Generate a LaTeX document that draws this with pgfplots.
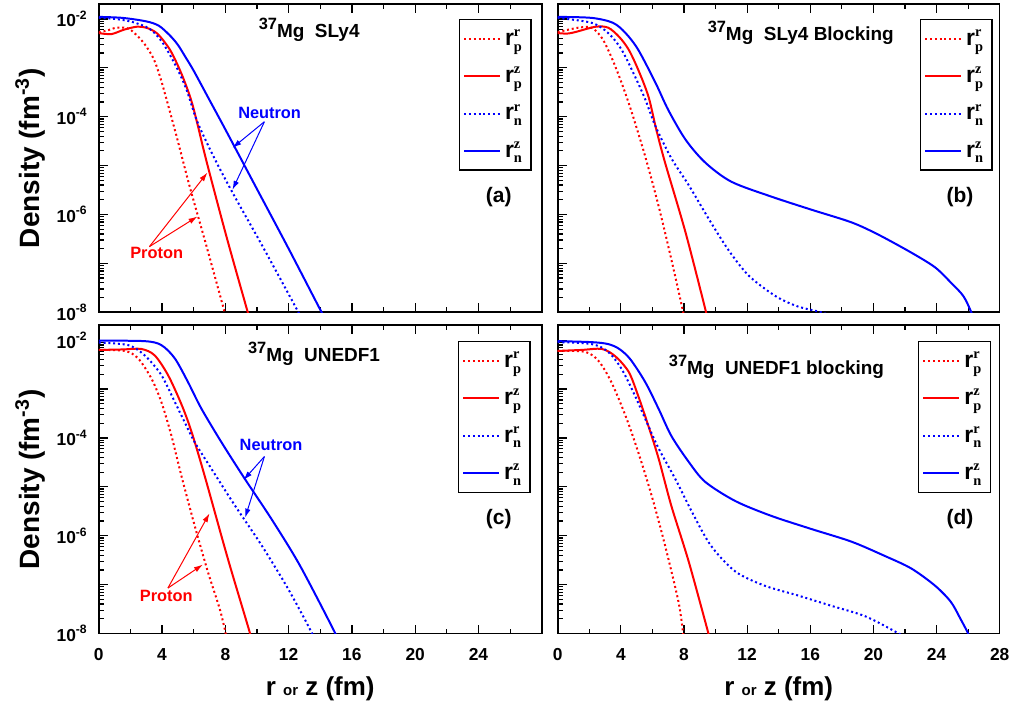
\documentclass[border=0pt]{standalone}
\usepackage{fontspec}
\setmainfont{Liberation Sans}
\newfontfamily\serif{Liberation Serif}
\usepackage{pgfplots}
\pgfplotsset{compat=1.18}
\usepackage{pgfplotstable}
\usetikzlibrary{arrows.meta}
\definecolor{rred}{RGB}{255,0,0}
\definecolor{rblue}{RGB}{0,0,255}
\newcommand{\smallser}[1]{\hbox{\fontsize{7.2}{8}\selectfont\serif\bfseries #1}}
\newcommand{\rr}[2]{r$^{\smallser{#1}}_{\smallser{#2}}$}
\newcommand{\ttl}[1]{\raisebox{4pt}{\fontsize{8.2}{9}\selectfont 37}Mg~~#1}

\pgfplotstableread{
x y
0 5.37e-3
0.5 5.75e-3
1.1 6.61e-3
1.6 6.61e-3
2.0 6.03e-3
2.6 3.98e-3
3.0 2.75e-3
3.5 1.45e-3
4.0 4.79e-4
4.9 4.17e-5
5.74 3.80e-6
6.81 2.24e-7
7.94 1.05e-8
8.3 3.98e-9
}\Apr
\pgfplotstableread{
x y
0 5.13e-3
0.8 4.90e-3
1.6 6.03e-3
2.4 6.92e-3
3.0 6.61e-3
3.7 5.01e-3
4.5 2.34e-3
5.2 7.94e-4
5.8 2.40e-4
6.2 7.94e-5
6.8 1.26e-5
8.07 3.55e-7
9.4 1.05e-8
9.7 5.01e-9
}\Apz
\pgfplotstableread{
x y
0 1.05e-2
1.0 1.00e-2
2.1 8.71e-3
3.2 6.31e-3
4.0 3.39e-3
4.9 1.05e-3
5.55 3.55e-4
6.2 8.32e-5
7.2 1.66e-5
8.45 2.82e-6
10.3 2.40e-7
12.55 1.10e-8
13.0 5.62e-9
}\Anr
\pgfplotstableread{
x y
0 1.10e-2
1.5 1.05e-2
3.0 8.91e-3
3.8 7.24e-3
4.5 4.57e-3
5.0 2.95e-3
5.5 1.62e-3
6.0 8.71e-4
7.0 2.19e-4
8.0 5.50e-5
10.0 3.31e-6
12.0 2.00e-7
14.05 1.05e-8
14.5 5.62e-9
}\Anz
\pgfplotstableread{
x y
0 5.37e-3
1.3 6.61e-3
2.15 6.61e-3
2.8 4.07e-3
3.4 1.66e-3
4.05 4.90e-4
4.7 1.20e-4
5.55 1.51e-5
6.4 1.45e-6
7.2 1.20e-7
7.95 1.00e-8
8.2 3.98e-9
}\Bpr
\pgfplotstableread{
x y
0 5.13e-3
0.6 5.01e-3
1.1 5.37e-3
2.4 6.92e-3
3.2 6.61e-3
3.9 4.27e-3
4.5 2.34e-3
5.1 9.12e-4
5.75 2.57e-4
6.25 5.37e-5
6.8 1.15e-5
8.1 4.27e-7
9.4 1.00e-8
9.7 3.98e-9
}\Bpz
\pgfplotstableread{
x y
0 1.05e-2
2.15 8.32e-3
3.2 5.13e-3
4.05 2.34e-3
4.9 6.61e-4
5.55 2.24e-4
6.2 6.31e-5
7.2 1.41e-5
8.3 3.98e-6
9.55 8.32e-7
10.8 1.91e-7
12.1 5.62e-8
13.8 2.14e-8
15.2 1.32e-8
16.7 1.00e-8
17.5 7.94e-9
}\Bnr
\pgfplotstableread{
x y
0 1.10e-2
2.15 1.05e-2
3.5 8.32e-3
4.3 5.13e-3
5.1 2.34e-3
6.2 4.90e-4
7.0 1.38e-4
8.1 3.39e-5
9.35 1.15e-5
11.0 4.68e-6
13.5 2.34e-6
16.05 1.26e-6
18.6 6.92e-7
20.3 3.89e-7
22.4 1.66e-7
23.9 8.32e-8
24.9 4.07e-8
25.7 2.14e-8
26.2 1.00e-8
26.4 6.31e-9
}\Bnz
\pgfplotstableread{
x y
0 6.31e-3
1.64 6.03e-3
2.48 4.27e-3
3.32 1.66e-3
3.95 5.50e-4
4.58 1.15e-4
5.21 1.74e-5
6.05 1.66e-6
6.89 1.86e-7
7.63 3.31e-8
7.99 1.12e-8
8.1 6.31e-9
}\Cpr
\pgfplotstableread{
x y
0 6.31e-3
1.5 6.46e-3
2.69 6.61e-3
3.53 4.90e-3
4.37 1.95e-3
5.21 5.01e-4
5.84 1.41e-4
6.68 1.74e-5
8.15 3.47e-7
9.52 1.12e-8
9.8 5.01e-9
}\Cpz
\pgfplotstableread{
x y
0 8.91e-3
1.85 7.94e-3
2.9 4.90e-3
3.95 1.95e-3
4.8 5.50e-4
5.42 2.14e-4
6.05 8.32e-5
7.1 2.40e-5
8.58 4.27e-6
10.26 6.61e-7
11.94 8.51e-8
13.41 1.12e-8
13.7 6.31e-9
}\Cnr
\pgfplotstableread{
x y
0 9.77e-3
2.9 9.55e-3
3.95 7.94e-3
4.8 4.27e-3
5.63 1.41e-3
6.47 4.07e-4
7.74 8.32e-5
9.2 1.51e-5
10.9 2.24e-6
12.7 2.51e-7
14.88 1.12e-8
15.2 6.31e-9
}\Cnz
\pgfplotstableread{
x y
0 6.03e-3
1.75 5.75e-3
2.6 3.72e-3
3.4 1.38e-3
4.3 2.82e-4
5.1 5.13e-5
5.95 6.61e-6
6.8 6.31e-7
7.65 4.47e-8
7.95 1.00e-8
8.1 5.01e-9
}\Dpr
\pgfplotstableread{
x y
0 6.03e-3
1.5 6.31e-3
2.8 6.61e-3
3.65 4.68e-3
4.5 2.24e-3
5.1 7.24e-4
5.75 1.74e-4
6.4 3.72e-5
7.2 4.07e-6
8.3 2.95e-7
9.55 1.00e-8
9.8 5.01e-9
}\Dpz
\pgfplotstableread{
x y
0 9.12e-3
2.15 8.32e-3
3.2 5.75e-3
4.05 2.57e-3
4.9 7.24e-4
5.75 1.74e-4
6.4 6.03e-5
7.45 1.45e-5
8.5 3.09e-6
9.7 6.31e-7
11.25 1.86e-7
13.1 9.55e-8
15.2 6.03e-8
17.3 3.72e-8
19.5 2.24e-8
21.6 1.00e-8
22.0 7.94e-9
}\Dnr
\pgfplotstableread{
x y
0 9.55e-3
2.15 9.12e-3
3.2 8.32e-3
3.9 6.61e-3
4.6 4.07e-3
5.55 1.38e-3
6.4 3.89e-4
7.2 1.10e-4
8.3 3.24e-5
9.35 1.26e-5
11.25 5.13e-6
13.5 2.57e-6
16.05 1.38e-6
18.6 7.59e-7
20.7 3.89e-7
22.4 2.14e-7
23.9 9.55e-8
24.9 4.47e-8
25.5 2.04e-8
26.0 1.00e-8
26.2 6.31e-9
}\Dnz

\pgfplotsset{
  every axis/.append style={
    scale only axis, height=154.5pt,
    xmin=0, xmax=28, ymin=1e-8, ymax=2.02e-2,
    xtick={0,4,...,28}, minor x tick num=1,
    ytick={1e-8,1e-7,1e-6,1e-5,1e-4,1e-3,1e-2},
    minor ytick={2e-8,3e-8,4e-8,5e-8,6e-8,7e-8,8e-8,9e-8,2e-7,3e-7,4e-7,5e-7,6e-7,7e-7,8e-7,9e-7,2e-6,3e-6,4e-6,5e-6,6e-6,7e-6,8e-6,9e-6,2e-5,3e-5,4e-5,5e-5,6e-5,7e-5,8e-5,9e-5,2e-4,3e-4,4e-4,5e-4,6e-4,7e-4,8e-4,9e-4,2e-3,3e-3,4e-3,5e-3,6e-3,7e-3,8e-3,9e-3,2e-2},
    ytick pos=left, xtick pos=both, tick align=inside,
    major tick length=4.5pt, minor tick length=2.5pt,
    axis line style={line width=0.8pt},
    tick style={black, line width=0.6pt},
    tick label style={font=\fontsize{8.7}{10}\selectfont\bfseries},
    xticklabel style={yshift=-4pt},
    yticklabel style={xshift=-2pt},
    legend cell align=left,
  },
  legend image code/.code={\draw[#1] (0pt,0pt) -- (18pt,0pt);},
  every axis legend/.append style={anchor=north east, draw=black, line width=0.6pt, fill=white,
      inner xsep=2pt, inner ysep=3pt, row sep=5.5pt,
      font=\fontsize{11.5}{12}\selectfont\bfseries},
  every axis x label/.append style={at={(rel axis cs:0.5,0)}, anchor=center, yshift=-27.5pt, font=\fontsize{13}{15}\selectfont\bfseries},
  every axis y label/.append style={at={(rel axis cs:-0.155,0.5)}, anchor=center, font=\fontsize{14}{16}\selectfont\bfseries},
}
\tikzset{arr/.style={-{Latex[length=4.5pt,width=2.8pt]}, line width=0.5pt},
  ann/.style={font=\fontsize{8.2}{10}\selectfont\bfseries},
  ttlf/.style={font=\fontsize{9.5}{11}\selectfont\bfseries},
  lblf/.style={font=\fontsize{10.5}{12}\selectfont\bfseries},
  lpr/.style={rred, line width=1pt, dash pattern=on 1pt off 1.4pt},
  lpz/.style={rred, line width=1pt},
  lnr/.style={rblue, line width=1pt, dash pattern=on 1pt off 1.4pt},
  lnz/.style={rblue, line width=1pt}}

\begin{document}
\begin{tikzpicture}
% (a)
\begin{axis}[ymode=log, at={(49.5pt,201pt)}, anchor=south west, width=222pt,
  xticklabels={},
  yticklabels={10\textsuperscript{-8},{},10\textsuperscript{-6},{},10\textsuperscript{-4},{},10\textsuperscript{-2}},
  ylabel={Density (fm\textsuperscript{-3})},
  legend style={at={(rel axis cs:0.977,0.951)}}]
\addplot[lpr, smooth] table {\Apr}; \addlegendentry{\rr{r}{p}}
\addplot[lpz, smooth] table {\Apz}; \addlegendentry{\rr{z}{p}}
\addplot[lnr, smooth] table {\Anr}; \addlegendentry{\rr{r}{n}}
\addplot[lnz, smooth] table {\Anz}; \addlegendentry{\rr{z}{n}}
\node[ttlf] at (rel axis cs:0.475,0.916) {\ttl{SLy4}};
\node[lblf] at (rel axis cs:0.903,0.375) {(a)};
\node[ann, rblue] at (axis cs:10.8,1.2e-4) {Neutron};
\draw[arr, rblue] (axis cs:10.47,7.9e-5) -- (axis cs:8.45,2.3e-5);
\draw[arr, rblue] (axis cs:10.47,7.9e-5) -- (axis cs:8.45,3.2e-6);
\node[ann, rred] at (axis cs:3.66,1.66e-7) {Proton};
\draw[arr, rred] (axis cs:3.2,2.2e-7) -- (axis cs:6.87,7.2e-6);
\draw[arr, rred] (axis cs:3.2,2.2e-7) -- (axis cs:6.24,9.1e-7);
\end{axis}
% (b)
\begin{axis}[ymode=log, at={(279.5pt,201pt)}, anchor=south west, width=221.5pt,
  xticklabels={}, yticklabels={},
  legend style={at={(rel axis cs:0.984,0.951)}}]
\addplot[lpr, smooth] table {\Bpr}; \addlegendentry{\rr{r}{p}}
\addplot[lpz, smooth] table {\Bpz}; \addlegendentry{\rr{z}{p}}
\addplot[lnr, smooth] table {\Bnr}; \addlegendentry{\rr{r}{n}}
\addplot[lnz, smooth] table {\Bnz}; \addlegendentry{\rr{z}{n}}
\node[ttlf] at (rel axis cs:0.55,0.906) {\ttl{SLy4 Blocking}};
\node[lblf] at (rel axis cs:0.91,0.375) {(b)};
\end{axis}
% (c)
\begin{axis}[ymode=log, at={(49.5pt,40pt)}, anchor=south west, width=222pt,
  xticklabels={0,4,8,12,16,20,24,{}},
  yticklabels={10\textsuperscript{-8},{},10\textsuperscript{-6},{},10\textsuperscript{-4},{},10\textsuperscript{-2}},
  ylabel={Density (fm\textsuperscript{-3})},
  xlabel={r {\fontsize{7.5}{9}\selectfont or} z (fm)},
  legend style={at={(rel axis cs:0.975,0.948)}}]
\addplot[lpr, smooth] table {\Cpr}; \addlegendentry{\rr{r}{p}}
\addplot[lpz, smooth] table {\Cpz}; \addlegendentry{\rr{z}{p}}
\addplot[lnr, smooth] table {\Cnr}; \addlegendentry{\rr{r}{n}}
\addplot[lnz, smooth] table {\Cnz}; \addlegendentry{\rr{z}{n}}
\node[ttlf] at (rel axis cs:0.486,0.906) {\ttl{UNEDF1}};
\node[lblf] at (rel axis cs:0.903,0.372) {(c)};
\node[ann, rblue] at (axis cs:10.89,7.24e-5) {Neutron};
\draw[arr, rblue] (axis cs:10.47,4.17e-5) -- (axis cs:9.15,1.38e-5);
\draw[arr, rblue] (axis cs:10.47,4.17e-5) -- (axis cs:9.25,2.34e-6);
\node[ann, rred] at (axis cs:4.27,5.75e-8) {Proton};
\draw[arr, rred] (axis cs:4.37,8.51e-8) -- (axis cs:7.0,2.88e-6);
\draw[arr, rred] (axis cs:4.37,8.51e-8) -- (axis cs:6.58,2.57e-7);
\end{axis}
% (d)
\begin{axis}[ymode=log, at={(279.5pt,40pt)}, anchor=south west, width=221.5pt,
  xticklabels={0,4,8,12,16,20,24,28}, yticklabels={},
  xlabel={r {\fontsize{7.5}{9}\selectfont or} z (fm)},
  legend style={at={(rel axis cs:0.98,0.948)}}]
\addplot[lpr, smooth] table {\Dpr}; \addlegendentry{\rr{r}{p}}
\addplot[lpz, smooth] table {\Dpz}; \addlegendentry{\rr{z}{p}}
\addplot[lnr, smooth] table {\Dnr}; \addlegendentry{\rr{r}{n}}
\addplot[lnz, smooth] table {\Dnz}; \addlegendentry{\rr{z}{n}}
\node[ttlf] at (rel axis cs:0.495,0.864) {\ttl{UNEDF1 blocking}};
\node[lblf] at (rel axis cs:0.91,0.372) {(d)};
\end{axis}
\useasboundingbox (0,0) rectangle (508pt,357.5pt);
\end{tikzpicture}
\end{document}
